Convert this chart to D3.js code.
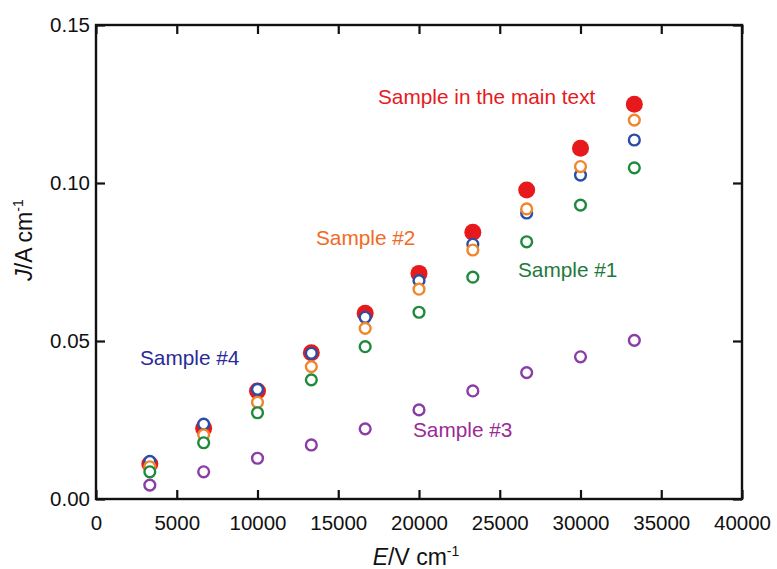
<!DOCTYPE html>
<html>
<head>
<meta charset="utf-8">
<script src="https://cdn.jsdelivr.net/npm/d3@7"></script>
<style>
	body { margin: 0; background: #fff; }
	svg text { font-family: "Liberation Sans", Arial, sans-serif; }
</style>
</head>
<body>
<div id="chart"></div>
<script>

	// field strength, V/cm
	var fields = [3333, 6667, 10000, 13333, 16667, 20000, 23333, 26667, 30000, 33333];

	// current density, A/cm
	var mainText = [0.0111, 0.0224, 0.0342, 0.0463, 0.0588, 0.0714, 0.0844, 0.0978, 0.1110, 0.1249];
	var sample1 = [0.0086, 0.0178, 0.0273, 0.0377, 0.0482, 0.0591, 0.0702, 0.0814, 0.0930, 0.1048];
	var sample2 = [0.0102, 0.0203, 0.0306, 0.0419, 0.0540, 0.0664, 0.0788, 0.0918, 0.1052, 0.1199];
	var sample3 = [0.0044, 0.0086, 0.0129, 0.0171, 0.0222, 0.0282, 0.0342, 0.0400, 0.0450, 0.0502];
	var sample4 = [0.0119, 0.0237, 0.0347, 0.0461, 0.0575, 0.0691, 0.0806, 0.0905, 0.1025, 0.1136];

	var xTicks = [0, 5000, 10000, 15000, 20000, 25000, 30000, 35000, 40000];
	var yTicks = [0, 0.05, 0.10, 0.15];

	var width = 777, height = 569;
	var margin = {top: 25, right: 35, bottom: 70, left: 96};

	var svg = d3.select("#chart").append("svg")
		.attr("width", width)
		.attr("height", height);

	var x = d3.scaleLinear().domain([0, 40000]).range([margin.left, width - margin.right]);
	var y = d3.scaleLinear().domain([0, 0.15]).range([height - margin.bottom, margin.top]);

	var xMinor = d3.range(0, 40001, 2500);
	var yMinor = d3.range(0, 0.1501, 0.025);

	// ticks point inward on all four sides
	function tickAxis(axisFn, scale, values, size) {
		return axisFn(scale).tickValues(values).tickSize(-size).tickFormat("");
	}

	var gx = svg.append("g").attr("transform", "translate(0," + y(0) + ")");
	gx.call(tickAxis(d3.axisBottom, x, xMinor, 5));
	gx.call(d3.axisBottom(x).tickValues(xTicks).tickSize(-9).tickPadding(16)
		.tickFormat(d3.format("d")));

	var gxTop = svg.append("g").attr("transform", "translate(0," + y(0.15) + ")");
	gxTop.call(tickAxis(d3.axisTop, x, xMinor, 5));
	gxTop.call(tickAxis(d3.axisTop, x, xTicks, 9));

	var gy = svg.append("g").attr("transform", "translate(" + x(0) + ",0)");
	gy.call(tickAxis(d3.axisLeft, y, yMinor, 5));
	gy.call(d3.axisLeft(y).tickValues(yTicks).tickSize(-9).tickPadding(6)
		.tickFormat(d3.format(".2f")));

	var gyRight = svg.append("g").attr("transform", "translate(" + x(40000) + ",0)");
	gyRight.call(tickAxis(d3.axisRight, y, yMinor, 5));
	gyRight.call(tickAxis(d3.axisRight, y, yTicks, 9));

	svg.selectAll(".domain").remove();
	svg.selectAll(".tick line").attr("stroke", "#111").attr("stroke-width", 2.2);
	svg.selectAll(".tick text").attr("fill", "#111").style("font-size", "20.5px");

	svg.append("rect")
		.attr("x", x(0))
		.attr("y", y(0.15))
		.attr("width", x(40000) - x(0))
		.attr("height", y(0) - y(0.15))
		.attr("fill", "none")
		.attr("stroke", "#111")
		.attr("stroke-width", 2.4);

	// axis titles
	var xt = svg.append("text")
		.attr("x", 416)
		.attr("y", 565)
		.attr("text-anchor", "middle")
		.style("font-size", "23px")
		.attr("fill", "#111");
	xt.append("tspan").style("font-style", "italic").text("E");
	xt.append("tspan").text("/V cm");
	xt.append("tspan").attr("dy", -9).style("font-size", "14px").text("-1");

	var yt = svg.append("text")
		.attr("transform", "translate(32,240) rotate(-90)")
		.attr("text-anchor", "middle")
		.style("font-size", "23px")
		.attr("fill", "#111");
	yt.append("tspan").style("font-style", "italic").text("J");
	yt.append("tspan").text("/A cm");
	yt.append("tspan").attr("dy", -9).style("font-size", "14px").text("-1");

	// data series, drawn back to front; open rings have white centres
	var series = [
		{name: "main", values: mainText, color: "#e8191c", filled: true},
		{name: "s4", values: sample4, color: "#2a4ea6", filled: false},
		{name: "s2", values: sample2, color: "#f0862a", filled: false},
		{name: "s1", values: sample1, color: "#1f8a3e", filled: false},
		{name: "s3", values: sample3, color: "#8a3da6", filled: false}
	];

	series.forEach(function(s) {
		svg.append("g")
			.selectAll("circle")
			.data(s.values)
			.enter()
			.append("circle")
			.attr("cx", function(d, i) { return x(fields[i]); })
			.attr("cy", function(d) { return y(d); })
			.attr("r", s.filled ? 8.5 : 5.4)
			.attr("fill", s.filled ? s.color : "#fff")
			.attr("stroke", s.filled ? "none" : s.color)
			.attr("stroke-width", 2.4);
	});

	// in-plot labels
	var labels = [
		{text: "Sample in the main text", x: 378, y: 104, color: "#e8191c"},
		{text: "Sample #2", x: 316, y: 245, color: "#f26a22"},
		{text: "Sample #1", x: 518, y: 277, color: "#1e7a3c"},
		{text: "Sample #4", x: 140, y: 365, color: "#2b2b96"},
		{text: "Sample #3", x: 413, y: 437, color: "#9a2a96"}
	];

	svg.selectAll("text.label")
		.data(labels)
		.enter()
		.append("text")
		.classed("label", true)
		.attr("x", function(d) { return d.x; })
		.attr("y", function(d) { return d.y; })
		.attr("fill", function(d) { return d.color; })
		.style("font-size", "20.8px")
		.text(function(d) { return d.text; });

</script>
</body>
</html>
